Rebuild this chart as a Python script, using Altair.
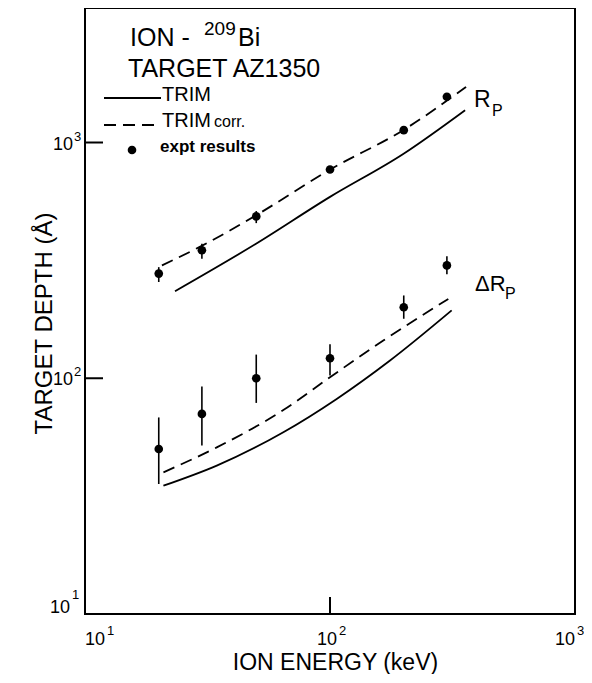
import altair as alt
import pandas as pd

# ---- data ----
energy = [20, 30, 50, 100, 200, 300]
rp_expt = [278, 349, 486, 768, 1128, 1563]
rp_lo = [256, 321, 455, 745, 1095, 1516]
rp_hi = [296, 372, 512, 792, 1162, 1610]
drp_expt = [50.1, 70.6, 100, 121.6, 200, 301]
drp_lo = [35.6, 51.8, 78.6, 102.7, 178.8, 276]
drp_hi = [68.2, 92.3, 126, 139.5, 224.5, 329]

rp_trim_e = [23.3, 49.9, 100, 199, 356]
rp_trim = [234, 372, 588, 894, 1371]
rp_corr_e = [20.6, 30.2, 49.9, 100, 199, 359]
rp_corr = [301, 366, 491, 768, 1128, 1722]

drp_trim_e = [20.9, 34.5, 64.5, 106.5, 175.8, 313.7]
drp_trim = [35.0, 42.6, 59.0, 81.7, 118.9, 194]
drp_corr_e = [20.9, 34.5, 64.5, 100, 165, 304]
drp_corr = [39.9, 50.9, 73.3, 101, 144.6, 217]

tick_values = [10, 100, 1000]
tick_base = ["10", "10", "10"]
tick_exp = ["1", "2", "3"]
inner_x_ticks = [100]
inner_y_ticks = [100, 1000]

FONT = "Liberation Sans"
W, H = 490, 606
L0, T0 = 85, 8  # plot origin in page pixels

xs = alt.Scale(type="log", domain=[10, 1000], nice=False)
ys = alt.Scale(type="log", domain=[10, 3720], nice=False)

expt = pd.DataFrame({
    "E": energy * 2,
    "v": rp_expt + drp_expt,
    "lo": rp_lo + drp_lo,
    "hi": rp_hi + drp_hi,
})

curves = pd.DataFrame({
    "E": rp_trim_e + rp_corr_e + drp_trim_e + drp_corr_e,
    "v": rp_trim + rp_corr + drp_trim + drp_corr,
    "curve": (["rp_trim"] * len(rp_trim_e) + ["rp_corr"] * len(rp_corr_e)
              + ["drp_trim"] * len(drp_trim_e) + ["drp_corr"] * len(drp_corr_e)),
    "dashed": ([False] * len(rp_trim_e) + [True] * len(rp_corr_e)
               + [False] * len(drp_trim_e) + [True] * len(drp_corr_e)),
})

ticks = pd.DataFrame({"t": tick_values, "base": tick_base, "exp": tick_exp})

xenc = alt.X("E:Q", scale=xs, axis=alt.Axis(
    values=tick_values, labels=False, ticks=False, domain=False, grid=False,
    title="ION ENERGY (keV)", titleFont=FONT, titleFontSize=23, titleFontWeight="normal",
    titleColor="black", titleX=250, titleY=55, titleAlign="center",
    titleBaseline="alphabetic"))
yenc = alt.Y("v:Q", scale=ys, axis=alt.Axis(
    values=tick_values, labels=False, ticks=False, domain=False, grid=False,
    title="TARGET DEPTH (\u00c5)", titleFont=FONT, titleFontSize=24, titleFontWeight="normal",
    titleColor="black", titleX=-34, titleY=315, titleAlign="center",
    titleBaseline="alphabetic"))

base_c = alt.Chart(curves)
solid = base_c.transform_filter("!datum.dashed").mark_line(
    color="black", strokeWidth=1.8, interpolate="monotone").encode(
    x=xenc, y=yenc, detail="curve:N")
dashed = base_c.transform_filter("datum.dashed").mark_line(
    color="black", strokeWidth=1.8, strokeDash=[12, 7], interpolate="monotone").encode(
    x="E:Q", y="v:Q", detail="curve:N")

bars = alt.Chart(expt).mark_rule(color="black", strokeWidth=1.6).encode(
    x="E:Q", y="lo:Q", y2="hi:Q")
dots = alt.Chart(expt).mark_point(filled=True, color="black", opacity=1, size=75).encode(
    x="E:Q", y="v:Q")

ytick = alt.Chart(pd.DataFrame({"v": inner_y_ticks})).mark_rule(
    color="black", strokeWidth=2).encode(y="v:Q", x=alt.value(0), x2=alt.value(18))
xtick = alt.Chart(pd.DataFrame({"E": inner_x_ticks})).mark_rule(
    color="black", strokeWidth=2).encode(x="E:Q", y=alt.value(H), y2=alt.value(H - 17))

# ---- tick labels as "10" + raised exponent ----
tk = alt.Chart(ticks)
lab_kw = dict(font=FONT, color="black", baseline="alphabetic")
x_first = tk.transform_filter("datum.t < 20")
x_mid = tk.transform_filter("datum.t >= 20 && datum.t < 500")
x_last = tk.transform_filter("datum.t >= 500")
y_first = tk.transform_filter("datum.t < 20")
y_rest = tk.transform_filter("datum.t >= 20")


def xlab(src, dx_base):
    return [
        src.mark_text(align="right", dx=dx_base, fontSize=18, **lab_kw).encode(
            x=alt.X("t:Q", scale=xs), y=alt.value(H + 31), text="base:N"),
        src.mark_text(align="left", dx=dx_base + 2, fontSize=13, **lab_kw).encode(
            x=alt.X("t:Q", scale=xs), y=alt.value(H + 21), text="exp:N"),
    ]


xlabels = xlab(x_mid, 7) + xlab(x_first, 20) + xlab(x_last, 0)
ylabels = [
    y_rest.mark_text(align="right", dx=-12, dy=7, fontSize=18, **lab_kw).encode(
        y=alt.Y("t:Q", scale=ys), x=alt.value(0), text="base:N"),
    y_rest.mark_text(align="left", dx=-11, dy=-2, fontSize=13, **lab_kw).encode(
        y=alt.Y("t:Q", scale=ys), x=alt.value(0), text="exp:N"),
    y_first.mark_text(align="right", dx=-15, dy=-1, fontSize=18, **lab_kw).encode(
        y=alt.Y("t:Q", scale=ys), x=alt.value(0), text="base:N"),
    y_first.mark_text(align="left", dx=-13, dy=-15, fontSize=13, **lab_kw).encode(
        y=alt.Y("t:Q", scale=ys), x=alt.value(0), text="exp:N"),
]

one = pd.DataFrame({"a": [0]})


def txt(s, X, Y, size, weight="normal"):
    return alt.Chart(one).mark_text(
        text=s, font=FONT, fontSize=size, fontWeight=weight, color="black",
        align="left", baseline="alphabetic").encode(
        x=alt.value(X - L0), y=alt.value(Y - T0))


def seg(X1, X2, Y, dash=None):
    kw = dict(color="black", strokeWidth=1.8)
    if dash:
        kw["strokeDash"] = dash
    return alt.Chart(one).mark_rule(**kw).encode(
        x=alt.value(X1 - L0), x2=alt.value(X2 - L0), y=alt.value(Y - T0))


annot = [
    txt("ION  -", 130, 46, 25),
    txt("209", 204, 35, 19),
    txt("Bi", 238, 46, 25),
    txt("TARGET  AZ1350", 128, 77, 25),
    seg(104, 161, 98),
    txt("TRIM", 162, 101, 20),
    seg(104, 161, 125, [12, 7]),
    txt("TRIM", 162, 127, 20),
    txt("corr.", 214, 127, 16),
    alt.Chart(one).mark_point(filled=True, color="black", opacity=1, size=75).encode(
        x=alt.value(132 - L0), y=alt.value(150 - T0)),
    txt("expt results", 160, 152, 17, "bold"),
    txt("R", 474, 107, 23),
    txt("P", 492, 116, 16),
    txt("\u0394R", 475, 291, 22),
    txt("P", 505, 299, 16),
]

chart = alt.layer(solid, dashed, bars, dots, ytick, xtick,
                  *xlabels, *ylabels, *annot).properties(
    width=W, height=H,
    background="white",
    autosize=alt.AutoSizeParams(type="none"),
    padding={"left": 77, "top": 0, "right": 9, "bottom": 60},
).configure_view(stroke="black", strokeWidth=2)

chart.save("out.html", embed_options={"renderer": "svg", "actions": False})
